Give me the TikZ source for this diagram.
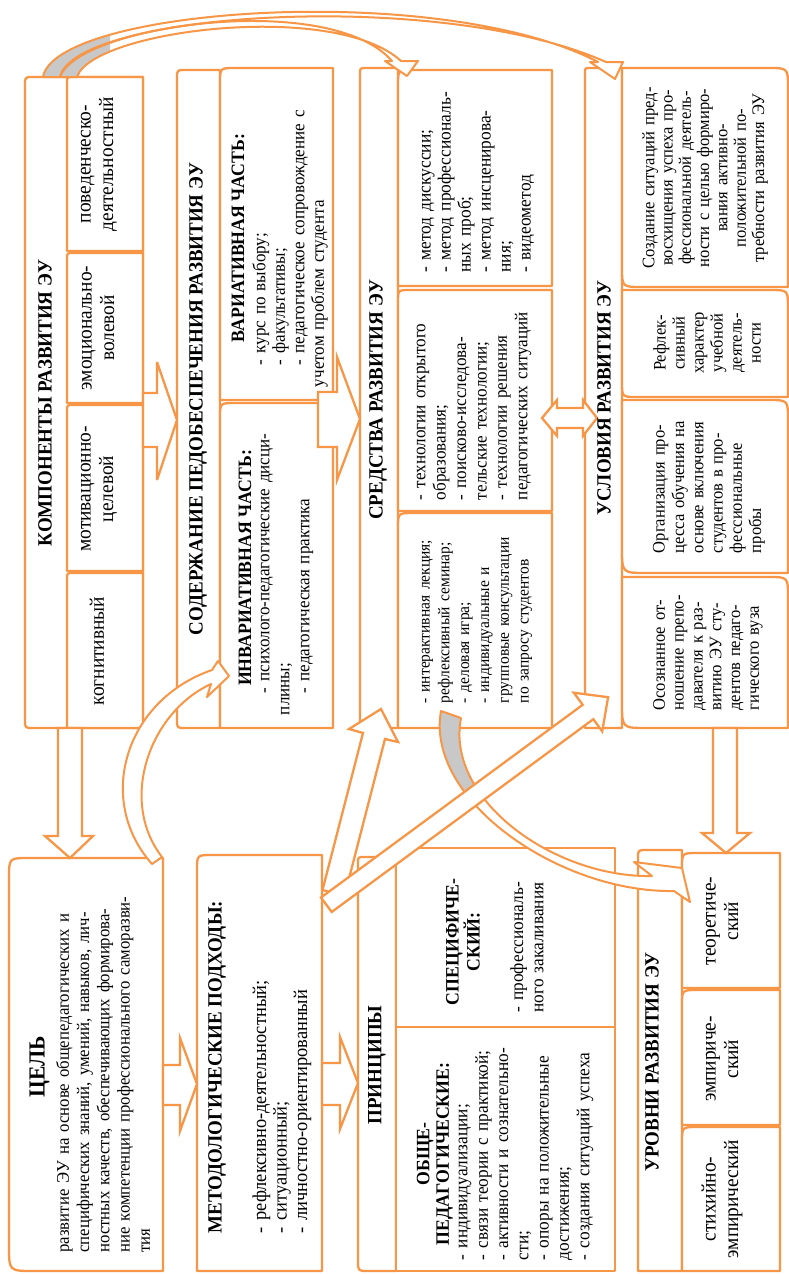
\documentclass[tikz,border=0pt]{standalone}
\usepackage{fontspec}
\setmainfont{Liberation Serif}[FakeStretch=0.94]
\setlength\parindent{0pt}
\definecolor{org}{RGB}{247,150,70}
\definecolor{shd}{RGB}{200,200,200}
\newcommand\J[1]{\leavevmode\hbox to\hsize{#1}}
\newcommand\ftitle{\fontsize{20.2}{22}\selectfont\bfseries}
\newcommand\fsubt{\fontsize{18.9}{19.5}\selectfont\bfseries}
\newcommand\fbig{\fontsize{20.6}{22.5}\selectfont}
\newcommand\fpr{\fontsize{18.4}{20.3}\selectfont}
% box with individual corner radii: x1 y1 x2 y2 rTL rTR rBR rBL (y grows downward)
\newcommand\ubox[8]{%
 \draw[bx] ({#1+#5},#2) -- ({#3-#6},#2) .. controls (#3,#2) .. (#3,{#2+#6})
 -- (#3,{#4-#7}) .. controls (#3,#4) .. ({#3-#7},#4)
 -- ({#1+#8},#4) .. controls (#1,#4) .. (#1,{#4-#8})
 -- (#1,{#2+#5}) .. controls (#1,#2) .. ({#1+#5},#2) -- cycle;}
\newcommand\pathCa{(43,77) .. controls (55,8) and (440,-20) .. (598,62) -- (590,62) -- (615,79) -- (623,62) -- (606,62) .. controls (440,-12) and (75,12) .. (60,77) -- cycle}
\newcommand\pathCb{(60,77) .. controls (78,25) and (330,-10) .. (392,61) -- (385,61) -- (407,76) -- (418,61) -- (401,61) .. controls (335,0) and (92,30) .. (77,77) -- cycle}
\newcommand\pathCc{(152,864) .. controls (95,800) and (125,700) .. (212,670) -- (218,661) -- (229,676) -- (207,697) -- (211,684) .. controls (150,712) and (118,800) .. (162,857) -- cycle}
\newcommand\pathCd{(441,711) .. controls (425,800) and (560,893) .. (674,891) -- (690,902) -- (682,868) -- (634,862) -- (652,876) .. controls (555,878) and (445,800) .. (461,718) -- cycle}
\tikzset{
  bx/.style={draw=org,line width=2.3pt,fill=white,line join=round},
  arr/.style={draw=org,line width=2.3pt,fill=white,line join=miter,miter limit=6},
  crv/.style={draw=org,line width=2pt,line join=round},
  txt/.style={rotate=90,inner sep=0pt},
}
\begin{document}
\begin{tikzpicture}[x=1pt,y=-1pt]
\useasboundingbox (0,0) rectangle (789,1274);

% ---------- boxes ----------
\ubox{25}{77}{143}{728}{8}{0}{0}{8}
\ubox{67}{77}{143}{251}{6}{0}{0}{0}
\ubox{67}{253}{143}{403}{6}{0}{0}{0}
\ubox{67}{405}{143}{571}{6}{0}{0}{0}
\ubox{67}{573}{143}{728}{6}{0}{0}{0}

\ubox{9}{858}{163}{1271}{20}{0}{0}{25}

\ubox{177}{70}{220}{728}{8}{0}{0}{8}
\ubox{220}{68}{333}{400}{15}{0}{0}{0}
\ubox{220}{403}{333}{728}{15}{0}{0}{0}

\ubox{360}{68}{398}{728}{6}{0}{0}{0}
\ubox{398}{70}{552}{286}{15}{0}{0}{0}
\ubox{398}{290}{552}{511}{12}{0}{0}{0}
\ubox{398}{513}{552}{728}{15}{0}{0}{0}

\ubox{585}{68}{622}{728}{5}{0}{0}{0}
\ubox{622}{68}{788}{287}{0}{20}{0}{20}
\ubox{622}{290}{788}{397}{0}{18}{0}{15}
\ubox{622}{400}{788}{573}{0}{20}{0}{25}
\ubox{622}{577}{788}{728}{0}{20}{0}{25}

\ubox{197}{855}{322}{1271}{15}{0}{0}{0}
\ubox{358}{857}{396}{1271}{6}{0}{0}{10}
\ubox{396}{848}{615}{1027}{0}{0}{0}{0}
\ubox{396}{1027}{615}{1271}{0}{0}{0}{0}
\ubox{638}{850}{682}{1271}{8}{0}{0}{0}
\ubox{682}{853}{780}{988}{15}{0}{0}{0}
\ubox{682}{990}{780}{1125}{15}{0}{0}{0}
\ubox{682}{1127}{780}{1271}{15}{0}{0}{0}

% ---------- block arrows ----------
\draw[arr] (143,393) -- (157,393) -- (157,362) -- (177,420) -- (157,480) -- (157,447) -- (143,447) -- cycle;
\draw[arr] (318,392) -- (337,392) -- (337,357) -- (360,419) -- (337,480) -- (337,447) -- (318,447) -- cycle;
\draw[arr] (163,1065) -- (180,1065) -- (180,1038) -- (197,1084) -- (180,1131) -- (180,1105) -- (163,1105) -- cycle;
\draw[arr] (322,1063) -- (340,1063) -- (340,1037) -- (358,1083) -- (340,1129) -- (340,1105) -- (322,1105) -- cycle;
\draw[arr] (58,728) -- (58,836) -- (45,836) -- (70,858) -- (93,836) -- (82,836) -- (82,728) -- cycle;
\draw[arr] (713,728) -- (713,833) -- (702,833) -- (726,853) -- (750,833) -- (737,833) -- (737,728) -- cycle;
\draw[arr] (542,418) -- (557,400) -- (557,408) -- (583,408) -- (583,400) -- (597,418) -- (583,436) -- (583,428) -- (557,428) -- (557,436) -- cycle;

% ---------- curved arrow: means -> levels ----------
\fill[white] \pathCd;
\begin{scope}\clip (425,700) rectangle (480,792); \fill[shd] \pathCd; \end{scope}
\draw[crv] \pathCd;

% ---------- straight arrows from approaches ----------
\draw[arr] (322.5,890) -- (363,733) -- (349,729) -- (381,709) -- (398,742) -- (385,739) -- (344.5,896) -- cycle;
\draw[arr] (321,897.5) -- (582.7,704.8) -- (573.8,692.7) -- (608.1,697.2) -- (602.2,731.3) -- (593.3,719.2) -- (331.7,912) -- cycle;

% ---------- curved arrow: goal -> invariant part ----------
\fill[white] \pathCc;
\draw[crv] \pathCc;

% ---------- top curved arrows ----------
\fill[white] \pathCa;
\fill[white] \pathCb;
\begin{scope}\clip (0,33) rectangle (110,80); \fill[shd] \pathCa; \fill[shd] \pathCb; \end{scope}
\draw[crv] \pathCa;
\draw[crv] \pathCb;

% ---------- texts ----------
\node[txt,font={\fontsize{23}{25}\selectfont\bfseries}] (goalT) at (39.5,1067) {ЦЕЛЬ};
\node[txt,font={\fontsize{17.8}{20.3}\selectfont},text width=375pt,align=left] (goalB) at (103,1065)
 {\J{развитие ЭУ на основе общепедагогических и}\\
  \J{специфических знаний, умений, навыков, лич-}\\
  \J{ностных качеств, обеспечивающих формирова-}\\
  \J{ние компетенции профессионального саморазви-}\\
  тия};

\node[txt,font=\ftitle] (compT) at (45,403) {КОМПОНЕНТЫ РАЗВИТИЯ ЭУ};
\node[txt,font=\fbig,text width=150pt,align=center] (comp1) at (99,164) {поведенческо-\\деятельностный};
\node[txt,font=\fbig,text width=140pt,align=center] (comp2) at (98,328) {эмоционально-\\волевой};
\node[txt,font=\fbig,text width=150pt,align=center] (comp3) at (99,489) {мотивационно-\\целевой};
\node[txt,font=\fbig] (comp4) at (97,651) {когнитивный};

\node[txt,font=\ftitle] (contT) at (198,399) {СОДЕРЖАНИЕ ПЕДОБЕСПЕЧЕНИЯ РАЗВИТИЯ ЭУ};
\node[txt,font=\fsubt] (varT) at (238,238) {ВАРИАТИВНАЯ ЧАСТЬ:};
\node[txt,font={\fontsize{18.1}{19.5}\selectfont},text width=299pt,align=left] (varB) at (290,237.5)
 {\hspace*{22pt}- курс по выбору;\\
  \hspace*{22pt}- факультативы;\\
  \J{\hspace*{22pt}- педагогическое сопровождение с}\\
  учетом проблем студента};
\node[txt,font=\fsubt] (invT) at (245,568) {ИНВАРИАТИВНАЯ ЧАСТЬ:};
\node[txt,font={\fontsize{18.1}{20}\selectfont},text width=302pt,align=left] (invB) at (287,564)
 {\J{\hspace*{22pt}- психолого-педагогические дисци-}\\
  плины;\\
  \hspace*{22pt}- педагогическая практика};

\node[txt,font=\ftitle] (meanT) at (378,400) {СРЕДСТВА РАЗВИТИЯ ЭУ};
\node[txt,font={\fontsize{18.5}{20}\selectfont},text width=183pt,align=left] (mean1) at (478,181)
 {- метод дискуссии;\\
  \J{- метод профессиональ-}\\
  ных проб;\\
  \J{- метод инсценирова-}\\
  ния;\\
  - видеометод};
\node[txt,font={\fontsize{18.2}{20.4}\selectfont},text width=192pt,align=left] (mean2) at (474,404)
 {\J{- технологии открытого}\\
  образования;\\
  \J{- поисково-исследова-}\\
  тельские технологии;\\
  \J{- технологии решения}\\
  педагогических ситуаций};
\node[txt,font={\fontsize{16.5}{19.8}\selectfont},text width=170pt,align=left] (mean3) at (477,618)
 {- интерактивная лекция;\\
  \J{рефлексивный семинар;}\\
  - деловая игра;\\
  \J{- индивидуальные и}\\
  \J{групповые консультации}\\
  по запросу студентов};

\node[txt,font=\ftitle] (condT) at (604,398) {УСЛОВИЯ РАЗВИТИЯ ЭУ};
\node[txt,font={\fontsize{17.6}{18.3}\selectfont},text width=200pt,align=center] (cond1) at (705,178)
 {Создание ситуаций пред-\\восхищения успеха про-\\фессиональной деятель-\\ности с целью формиро-\\вания активно-\\положительной по-\\требности развития ЭУ};
\node[txt,font={\fontsize{17.6}{19}\selectfont},text width=100pt,align=center] (cond2) at (707,343)
 {Рефлек-\\сивный\\характер\\учебной\\деятель-\\ности};
\node[txt,font={\fontsize{17.6}{19.3}\selectfont},text width=132pt,align=left] (cond3) at (709,487)
 {\J{Организация про-}\\
  \J{цесса обучения на}\\
  \J{основе включения}\\
  \J{студентов в про-}\\
  фессиональные\\
  пробы};
\node[txt,font={\fontsize{17.6}{18.8}\selectfont},text width=121pt,align=left] (cond4) at (708,650)
 {\J{Осознанное от-}\\
  \J{ношение препо-}\\
  \J{давателя к раз-}\\
  \J{витию ЭУ сту-}\\
  \J{дентов педаго-}\\
  гического вуза};

\node[txt,font=\ftitle] (metT) at (217,1067) {МЕТОДОЛОГИЧЕСКИЕ ПОДХОДЫ:};
\node[txt,font={\fontsize{19.6}{20.5}\selectfont},text width=360pt,align=left] (metB) at (282,1053)
 {- рефлексивно-деятельностный;\\- ситуационный;\\- личностно-ориентированный};

\node[txt,font=\ftitle] (prT) at (377,1065) {ПРИНЦИПЫ};
\node[txt,font=\fsubt,text width=170pt,align=center] (spT) at (463,942) {СПЕЦИФИЧЕ-\\СКИЙ:};
\node[txt,font=\fpr,text width=145pt,align=left] (spB) at (527,940)
 {\J{- профессиональ-}\\ного закаливания};
\node[txt,font=\fsubt,text width=230pt,align=center] (obT) at (435,1154) {ОБЩЕ-\\ПЕДАГОГИЧЕСКИЕ:};
\node[txt,font=\fpr,text width=222pt,align=left] (obB) at (526,1149)
 {- индивидуализации;\\
  - связи теории с практикой;\\
  \J{- активности и сознательно-}\\
  сти;\\
  \J{- опоры на положительные}\\
  достижения;\\
  - создания ситуаций успеха};

\node[txt,font=\ftitle] (levT) at (652,1062) {УРОВНИ РАЗВИТИЯ ЭУ};
\node[txt,font=\fbig,text width=125pt,align=center] (lev1) at (722,921) {теоретиче-\\ский};
\node[txt,font=\fbig,text width=125pt,align=center] (lev2) at (722,1059) {эмпириче-\\ский};
\node[txt,font=\fbig,text width=135pt,align=center] (lev3) at (722,1199) {стихийно-\\эмпирический};
\end{tikzpicture}
\end{document}
